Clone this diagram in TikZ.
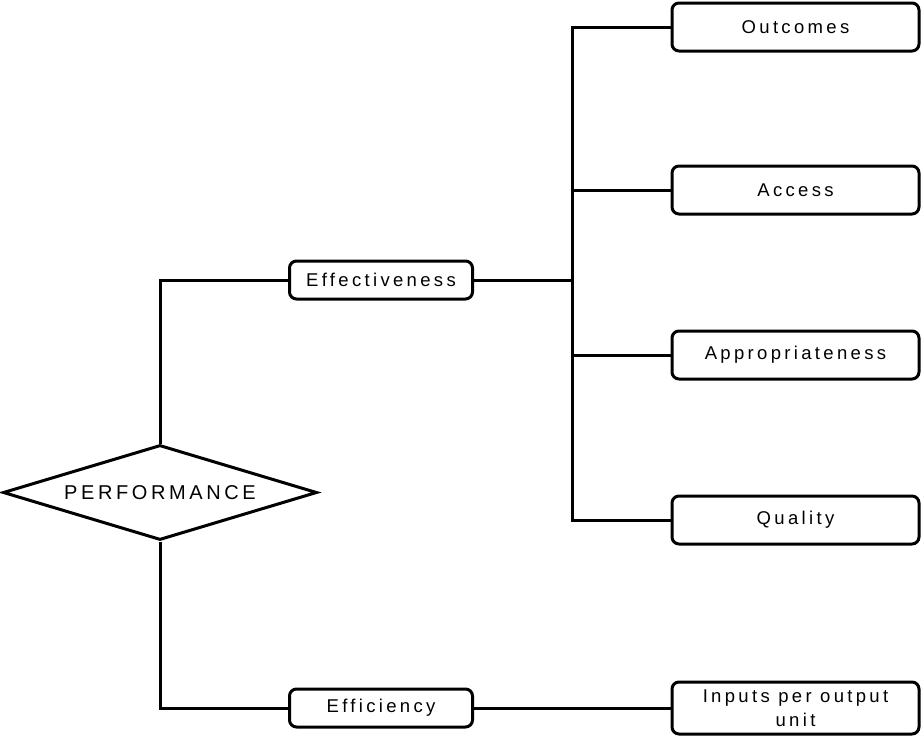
\documentclass[tikz,border=0pt]{standalone}
\usepackage{fontspec}
\setmainfont{Liberation Sans}[LetterSpace=18]
\usetikzlibrary{shapes.geometric}
\begin{document}
\begin{tikzpicture}[x=1pt,y=-1pt,
  conn/.style={line width=3pt},
  box/.style={draw, line width=3pt, rounded corners=7pt, align=center,
    inner sep=0pt, font=\fontsize{18.5}{24}\selectfont},
  dia/.style={draw, diamond, line width=3pt, inner sep=0pt, aspect=3.3,
    font=\fontsize{20}{24}\selectfont}]
\useasboundingbox (0,0) rectangle (921,736);
\node[dia, minimum width=314pt, minimum height=95pt] (perf) at (160,492.5) {PERFORMANCE};
\node[box, minimum width=183pt, minimum height=38pt] (eff) at (381,280) {Effectiveness};
\node[box, minimum width=183pt, minimum height=38pt] (effi) at (381,708) {Efficiency};
\node[box, minimum width=247pt, minimum height=48pt] (out) at (795.5,27) {Outcomes};
\node[box, minimum width=247pt, minimum height=48pt] (acc) at (795.5,190) {Access};
\node[box, minimum width=247pt, minimum height=48pt] (app) at (795.5,355) {Appropriateness};
\node[box, minimum width=247pt, minimum height=48pt] (qual) at (795.5,520) {Quality};
\node[box, minimum width=247pt, minimum height=52pt] (inp) at (795.5,708) {Inputs per output\\unit};
\coordinate (bus) at (572,0);
\draw[conn] (perf.north) |- (eff.west);
\draw[conn] (perf.south) |- (effi.west);
\draw[conn] (eff.east) -- (eff.east -| bus);
\draw[conn] (out.west) -- (out.west -| bus) -- (qual.west -| bus) -- (qual.west);
\draw[conn] (acc.west) -- (acc.west -| bus);
\draw[conn] (app.west) -- (app.west -| bus);
\draw[conn] (effi.east) -- (inp.west);
\end{tikzpicture}
\end{document}
